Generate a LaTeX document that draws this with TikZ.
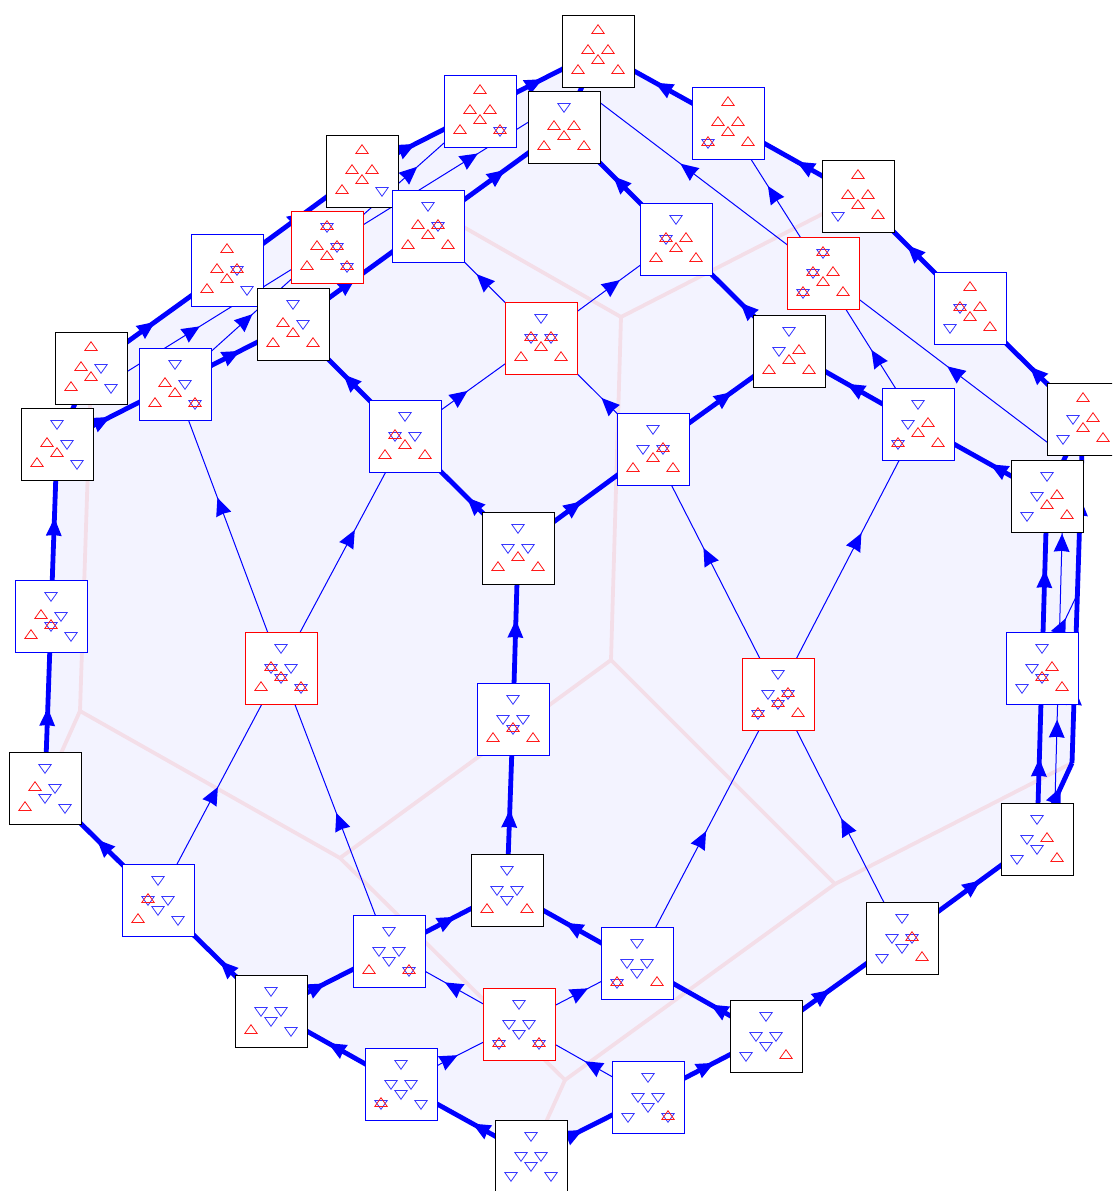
\documentclass[tikz,border=0pt]{standalone}
\usetikzlibrary{arrows.meta,decorations.markings}
\pgfdeclarelayer{bgl}\pgfdeclarelayer{edl}
\pgfsetlayers{bgl,edl,main}
\definecolor{lav}{RGB}{243,243,255}
\definecolor{pinkl}{RGB}{243,222,232}
\definecolor{tred}{RGB}{255,25,25}
\definecolor{tblue}{RGB}{55,55,255}
\tikzset{
  vbox/.style={rectangle,fill=white,minimum size=72pt,inner sep=0pt,outer sep=0pt,line width=1pt},
  ut/.style={draw=tred,line width=.8pt,line join=miter},
  dt/.style={draw=tblue,line width=.8pt,line join=miter},
  fat/.style={draw=blue,line width=4.8pt},
  fine/.style={draw=blue,line width=1pt},
  vor/.style={draw=pinkl,line width=3.8pt,line join=round},
  tip at/.style={postaction={decorate,decoration={markings,mark=at position #1 with {\arrow{Stealth[length=18pt,width=16pt,inset=1pt,line width=0pt]}}}}},
}
\newcommand\upT{\draw[ut] (0,-5.8)--(6.2,3)--(-6.2,3)--cycle;}
\newcommand\dnT{\draw[dt] (0,5.8)--(6.2,-3)--(-6.2,-3)--cycle;}
\newcommand\oneT[3]{\begin{scope}[shift={(#1,#2)}]\if#3u\upT\fi\if#3d\dnT\fi\if#3s\dnT\upT\fi\end{scope}}
\newcommand\sixT[6]{\oneT{0}{-20.5}{#1}\oneT{-10}{-.5}{#2}\oneT{10}{-.5}{#3}\oneT{0}{9.5}{#4}\oneT{-20}{19.5}{#5}\oneT{20}{19.5}{#6}}
\newcommand\vtx[5]{\node[vbox,draw=#4] (#1) at (#2,#3) {};\begin{scope}[shift={(#2,#3)}]\sixT#5\end{scope}}
\newcommand\ed[4]{\draw[#1,tip at=#4] (#2.center) -- (#3.center);}
\begin{document}
\begin{tikzpicture}[x=1pt,y=-1pt]
\useasboundingbox (0,0) rectangle (1112,1191);
\clip (0,0) rectangle (1112,1191);
% vertices
\vtx{n1}{598}{51}{black}{uuuuuu}
\vtx{n2}{480}{111}{blue}{uuuuus}
\vtx{n3}{728}{123}{blue}{uuuusu}
\vtx{n4}{564}{127}{black}{duuuuu}
\vtx{n5}{362}{171}{black}{uuuuud}
\vtx{n6}{858}{196}{black}{uuuudu}
\vtx{n7}{327}{247}{red}{susuus}
\vtx{n8}{428}{226}{blue}{dusuuu}
\vtx{n9}{227}{270}{blue}{uusuud}
\vtx{n10}{823}{273}{red}{ssuusu}
\vtx{n11}{676}{239}{blue}{dsuuuu}
\vtx{n12}{293}{324}{black}{duduuu}
\vtx{n13}{970}{308}{blue}{usuudu}
\vtx{n14}{541}{338}{red}{dssuuu}
\vtx{n15}{91}{368}{black}{uuduud}
\vtx{n16}{175}{384}{blue}{duduus}
\vtx{n17}{789}{351}{black}{dduuuu}
\vtx{n18}{405}{436}{blue}{dsduuu}
\vtx{n19}{1083}{419}{black}{uduudu}
\vtx{n20}{57}{444}{black}{duduud}
\vtx{n21}{918}{424}{blue}{dduusu}
\vtx{n22}{653}{449}{blue}{ddsuuu}
\vtx{n23}{1047}{496}{black}{dduudu}
\vtx{n24}{518}{548}{black}{ddduuu}
\vtx{n25}{51}{616}{blue}{dudsud}
\vtx{n26}{281}{668}{red}{dsdsus}
\vtx{n27}{1042}{668}{blue}{ddusdu}
\vtx{n28}{778}{694}{red}{ddsssu}
\vtx{n29}{513}{719}{blue}{dddsuu}
\vtx{n30}{45}{788}{black}{duddud}
\vtx{n31}{1037}{839}{black}{dduddu}
\vtx{n32}{158}{900}{blue}{dsddud}
\vtx{n33}{507}{890}{black}{dddduu}
\vtx{n34}{389}{951}{blue}{ddddus}
\vtx{n35}{637}{963}{blue}{ddddsu}
\vtx{n36}{902}{938}{black}{ddsddu}
\vtx{n37}{271}{1011}{black}{ddddud}
\vtx{n38}{519}{1024}{red}{ddddss}
\vtx{n39}{766}{1036}{black}{dddddu}
\vtx{n40}{401}{1084}{blue}{ddddsd}
\vtx{n41}{648}{1097}{blue}{ddddds}
\vtx{n42}{531}{1156}{black}{dddddd}
% free points of bent and offset connectors
\coordinate (kr) at (1072,763);
\coordinate (kt) at (1076,597);
\coordinate (a15) at (91,394);
\coordinate (a4) at (564,100);
\coordinate (b4) at (590,95);
\coordinate (b19) at (1060,452);
\coordinate (c31) at (1054,838);
\coordinate (c23) at (1063,500);
% background
\begin{pgfonlayer}{bgl}
\fill[lav] (n1.center)--(n3.center)--(n6.center)--(n13.center)--(n19.center)--(kr)--(n31.center)--(n36.center)--(n39.center)--(n41.center)--(n42.center)--(n40.center)--(n37.center)--(n32.center)--(n30.center)--(n25.center)--(n20.center)--(n15.center)--(n9.center)--(n5.center)--(n2.center)--cycle;
\coordinate (p1) at (425,205);
\coordinate (p2) at (621,317);
\coordinate (p3) at (840,205);
\coordinate (p4) at (611,660);
\coordinate (p5) at (340,858);
\coordinate (p6) at (835,884);
\coordinate (p7) at (80,711);
\coordinate (p8) at (90,405);
\coordinate (p9) at (58,760);
\coordinate (p10) at (565,1080);
\coordinate (p11) at (546,1122);
\draw[vor] (p1)--(p2)--(p3);
\draw[vor] (p2)--(p4)--(p5)--(p7)--(p8);
\draw[vor] (p7)--(p9);
\draw[vor] (p4)--(p6)--(kr);
\draw[vor] (p5)--(p10)--(p6);
\draw[vor] (p10)--(p11);
\end{pgfonlayer}
% connectors
\begin{pgfonlayer}{edl}
\ed{fat}{n42}{n41}{.44}
\ed{fat}{n42}{n40}{.45}
\ed{fat}{n41}{n39}{.56}
\ed{fat}{n39}{n36}{.47}
\ed{fat}{n36}{n31}{.58}
\ed{fat}{n31}{n27}{.47}
\ed{fat}{n27}{n23}{.57}
\ed{fat}{n31}{kr}{.68}
\draw[fat,tip at=.22,tip at=.77] (kr.center) -- (n19.center);
\ed{fat}{n23}{n19}{.5}
\ed{fat}{n23}{n21}{.44}
\ed{fat}{n19}{n13}{.47}
\ed{fat}{n13}{n6}{.56}
\ed{fat}{n6}{n3}{.47}
\ed{fat}{n3}{n1}{.56}
\ed{fat}{n2}{n1}{.53}
\ed{fat}{n5}{n2}{.45}
\ed{fat}{n9}{n5}{.58}
\ed{fat}{n15}{n9}{.47}
\ed{fat}{n20}{n15}{.5}
\ed{fat}{n25}{n20}{.57}
\ed{fat}{n30}{n25}{.465}
\ed{fat}{n32}{n30}{.54}
\ed{fat}{n37}{n32}{.45}
\ed{fat}{n40}{n37}{.56}
\ed{fat}{n37}{n34}{.46}
\ed{fat}{n34}{n33}{.56}
\ed{fat}{n35}{n33}{.55}
\ed{fat}{n39}{n35}{.43}
\ed{fat}{n33}{n29}{.47}
\ed{fat}{n29}{n24}{.58}
\ed{fat}{n24}{n18}{.45}
\ed{fat}{n24}{n22}{.47}
\ed{fat}{n22}{n17}{.58}
\ed{fat}{n21}{n17}{.55}
\ed{fat}{n17}{n11}{.43}
\ed{fat}{n11}{n4}{.56}
\ed{fat}{n8}{n4}{.565}
\ed{fat}{n4}{n1}{.5}
\ed{fat}{n12}{n8}{.46}
\ed{fat}{n18}{n12}{.55}
\ed{fat}{n16}{n12}{.55}
\ed{fat}{n20}{n16}{.45}
% thin
\ed{fine}{n18}{n14}{.46}
\ed{fine}{n22}{n14}{.46}
\ed{fine}{n14}{n8}{.57}
\ed{fine}{n14}{n11}{.585}
\ed{fine}{n26}{n16}{.6}
\ed{fine}{n26}{n18}{.595}
\ed{fine}{n32}{n26}{.487}
\ed{fine}{n34}{n26}{.488}
\ed{fine}{n28}{n22}{.596}
\ed{fine}{n28}{n21}{.596}
\ed{fine}{n35}{n28}{.49}
\ed{fine}{n36}{n28}{.49}
\ed{fine}{n38}{n35}{.585}
\ed{fine}{n38}{n34}{.57}
\ed{fine}{n41}{n38}{.49}
\ed{fine}{n40}{n38}{.48}
\ed{fine}{n10}{n3}{.58}
\ed{fine}{n21}{n10}{.49}
\ed{fine}{n16}{n7}{.51}
\ed{fine}{n7}{n2}{.59}
\ed{fine}{n27}{kt}{.7}
\draw[fine,tip at=.23,tip at=.818] (a15.center) -- (a4.center);
\draw[fine,tip at=.24,tip at=.808] (b19.center) -- (b4.center);
\draw[fine,tip at=.35,tip at=.9] (c31.center) -- (c23.center);
\end{pgfonlayer}
\end{tikzpicture}
\end{document}
